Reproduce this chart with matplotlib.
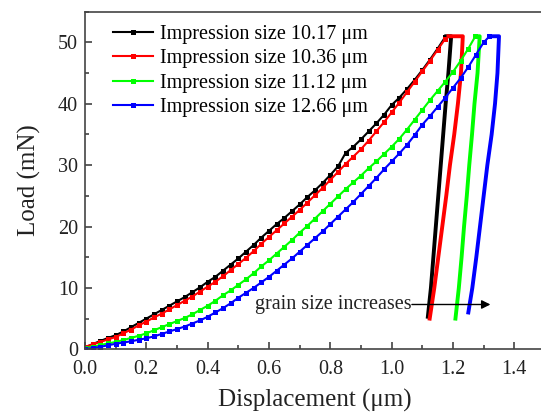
import numpy as np
import matplotlib
matplotlib.use('Agg')
import matplotlib.pyplot as plt
from matplotlib.ticker import MultipleLocator

plt.rcParams['font.family'] = ['Liberation Serif', 'DejaVu Serif']

# loading curves, displacement step 0.025 um
x_step = np.arange(0, 60) * 0.025

load_black = [0.3, 0.85, 1.35, 1.85, 2.3, 2.9, 3.6, 4.3, 5.0, 5.7, 6.4, 7.1, 7.8, 8.5,
              9.3, 10.1, 11.0, 11.8, 12.8, 13.8, 14.8, 15.9, 17.0, 18.2, 19.3, 20.4,
              21.4, 22.5, 23.6, 24.8, 25.9, 27.1, 28.4, 29.8, 32.0, 33.0, 34.2, 35.5,
              36.8, 38.2, 39.8, 41.0, 42.4, 43.9, 45.5, 47.2, 49.0, 50.9]
load_red = [0.4, 0.8, 1.2, 1.6, 2.0, 2.6, 3.2, 3.9, 4.5, 5.2, 5.8, 6.5, 7.2, 7.9,
            8.6, 9.4, 10.2, 11.0, 11.9, 12.9, 13.9, 14.9, 16.0, 17.2, 18.3, 19.4,
            20.5, 21.6, 22.7, 23.9, 25.1, 26.3, 27.6, 28.9, 30.2, 31.4, 32.6, 34.0,
            35.5, 37.0, 38.6, 40.2, 41.9, 43.6, 45.3, 47.0, 48.8, 50.6]
load_green = [0.2, 0.4, 0.7, 0.95, 1.2, 1.5, 1.85, 2.2, 2.6, 3.1, 3.6, 4.1, 4.6, 5.1,
              5.7, 6.4, 7.1, 7.9, 8.8, 9.6, 10.5, 11.4, 12.4, 13.5, 14.5, 15.6, 16.7,
              17.8, 19.0, 20.1, 21.3, 22.5, 23.7, 24.9, 26.1, 27.2, 28.3, 29.5, 30.6,
              31.8, 33.0, 34.3, 35.8, 37.4, 39.0, 40.6, 42.1, 43.6,
              45.2, 47.0, 49.0, 51.0]
load_blue = [0.0, 0.2, 0.4, 0.65, 0.9, 1.1, 1.3, 1.55, 1.8, 2.1, 2.5, 2.9, 3.3, 3.7,
             4.2, 4.7, 5.3, 6.0, 6.7, 7.5, 8.4, 9.2, 10.0, 10.9, 11.8, 12.8, 13.8,
             14.8, 15.9, 17.0, 18.1, 19.2, 20.4, 21.6, 22.8, 24.0, 25.3, 26.6, 27.9,
             29.3, 30.6, 31.9, 33.3, 34.9, 36.6, 38.0, 39.5, 41.0, 42.6, 44.2, 46.0,
             48.0, 50.0, 51.0]

# hold + unloading (displacement, load)
unload_black_x = [1.178, 1.194, 1.185, 1.176, 1.168, 1.16, 1.152, 1.144, 1.136, 1.128, 1.118]
unload_black_y = [51.0, 51.0, 45.0, 40.0, 35.0, 30.0, 25.0, 20.0, 15.0, 10.0, 5.3]
unload_red_x = [1.185, 1.232, 1.226, 1.216, 1.204, 1.19, 1.178, 1.165, 1.152, 1.139, 1.124]
unload_red_y = [51.0, 51.0, 45.0, 40.0, 35.0, 30.0, 25.0, 20.0, 15.0, 10.0, 5.0]
unload_green_x = [1.273, 1.287, 1.28, 1.27, 1.262, 1.253, 1.245, 1.236, 1.228, 1.219, 1.208]
unload_green_y = [51.0, 51.0, 45.0, 40.0, 35.0, 30.0, 25.0, 20.0, 15.0, 10.0, 5.0]
unload_blue_x = [1.319, 1.35, 1.345, 1.337, 1.326, 1.312, 1.3, 1.288, 1.276, 1.263, 1.25]
unload_blue_y = [51.0, 51.0, 45.0, 40.0, 35.0, 30.0, 25.0, 20.0, 15.0, 10.0, 6.0]

labels = ['Impression size 10.17 \u03bcm', 'Impression size 10.36 \u03bcm',
          'Impression size 11.12 \u03bcm', 'Impression size 12.66 \u03bcm']
colors = ['black', '#ff0000', '#00ff00', '#0000ff']

loads = [load_black, load_red, load_green, load_blue]
loads_x = [x_step[:len(load_black)], x_step[:len(load_red)],
           list(x_step[:len(load_green) - 1]) + [1.273],
           list(x_step[:len(load_blue) - 1]) + [1.319]]
unloads = [(unload_black_x, unload_black_y), (unload_red_x, unload_red_y),
           (unload_green_x, unload_green_y), (unload_blue_x, unload_blue_y)]

fig = plt.figure(figsize=(5.41, 4.12), dpi=100)
ax = fig.add_axes([85 / 541, 62.7 / 412, 460 / 541, 337.6 / 412])

for lx, ly, (ux, uy), c, lab in zip(loads_x, loads, unloads, colors, labels):
    ax.plot(lx, ly, '-', color=c, lw=1.5, marker='s', ms=3.6, mew=0, label=lab)
    ax.plot(ux, uy, '-', color=c, lw=2.8, solid_joinstyle='round')

ax.set_xlim(0, 1.5)
ax.set_ylim(0, 55)
ax.xaxis.set_major_locator(MultipleLocator(0.2))
ax.xaxis.set_minor_locator(MultipleLocator(0.1))
ax.yaxis.set_major_locator(MultipleLocator(10))
ax.yaxis.set_minor_locator(MultipleLocator(5))
ax.xaxis.set_major_formatter(plt.FormatStrFormatter('%.1f'))
ax.tick_params(which='both', direction='in', labelsize=14.5, colors='#333333',
               labelcolor='#222222', width=1.1)
ax.tick_params(which='major', length=5)
ax.tick_params(which='minor', length=3)
ax.tick_params(axis='x', pad=7.5)
ax.tick_params(axis='y', pad=5)
ax.spines['right'].set_visible(False)
for s in ['left', 'bottom', 'top']:
    ax.spines[s].set_color('#444444')
    ax.spines[s].set_linewidth(1.2)

ax.set_xlabel('Displacement (\u03bcm)', fontsize=18, color='#222222', labelpad=7)
ax.set_ylabel('Load (mN)', fontsize=18, color='#222222', labelpad=12)

ax.legend(loc='upper left', bbox_to_anchor=(0.06, 0.962), frameon=False,
          fontsize=14.5, handlelength=2.0, handletextpad=0.35, labelspacing=0.27,
          borderaxespad=0, borderpad=0, numpoints=1)

ax.annotate('', xy=(1.322, 7.3), xytext=(1.066, 7.3),
            arrowprops=dict(arrowstyle='-|>', color='black', lw=1.0,
                            mutation_scale=13, shrinkA=0, shrinkB=0))
ax.text(1.064, 7.3, 'grain size increases', fontsize=14.5, ha='right',
        va='center', color='#222222')

fig.savefig('out.png', dpi=100)
